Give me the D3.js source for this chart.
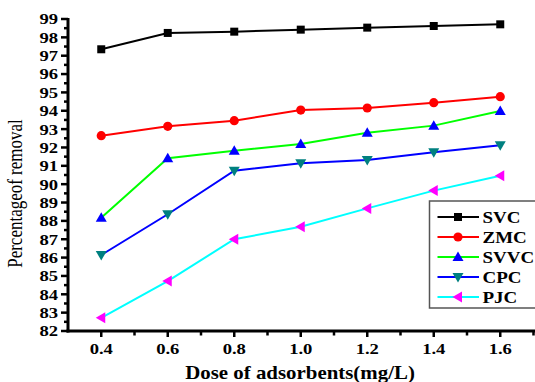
<!DOCTYPE html>
<html>
<head>
<meta charset="utf-8">
<script src="https://cdnjs.cloudflare.com/ajax/libs/d3/7.8.5/d3.min.js"></script>
<style>
  html, body { margin: 0; padding: 0; background: #fff; }
  svg text { font-family: "Liberation Serif", "Times New Roman", serif; }
</style>
</head>
<body>
<div id="chart"></div>
<script>
/*global d3:false */

var doses   = [0.4, 0.6, 0.8, 1.0, 1.2, 1.4, 1.6];
var svc     = [97.35, 98.24, 98.31, 98.42, 98.53, 98.62, 98.71];
var zmc     = [92.64, 93.15, 93.46, 94.04, 94.15, 94.44, 94.77];
var svvc    = [88.17, 91.41, 91.82, 92.19, 92.80, 93.19, 93.99];
var cpc     = [86.14, 88.36, 90.73, 91.14, 91.32, 91.74, 92.12];
var pjc     = [82.72, 84.72, 87.00, 87.68, 88.68, 89.65, 90.46];
var xTicks  = [0.4, 0.6, 0.8, 1.0, 1.2, 1.4, 1.6];
var yTicks  = d3.range(82, 100);

var seriesNames = ['SVC', 'ZMC', 'SVVC', 'CPC', 'PJC'];

(function() {
  var width = 535, height = 382;

  var series = [
    {name: 'SVC',  values: svc,  line: '#000000', fill: '#000000', shape: 'square'},
    {name: 'ZMC',  values: zmc,  line: '#ff0000', fill: '#ff0000', shape: 'circle'},
    {name: 'SVVC', values: svvc, line: '#00ff00', fill: '#0000ff', shape: 'up'},
    {name: 'CPC',  values: cpc,  line: '#0000ff', fill: '#008080', shape: 'down'},
    {name: 'PJC',  values: pjc,  line: '#00ffff', fill: '#ff00ff', shape: 'left'}
  ];

  var x = d3.scaleLinear().domain([0.3, 1.7]).range([68, 533.5]);
  var y = d3.scaleLinear().domain([82, 99]).range([331, 19]);

  var svg = d3.select('#chart').append('svg')
      .attr('width', width)
      .attr('height', height);

  // the original text is stretched sideways, so scale x only
  var stretchText = function(parent, tx, ty, sx, rot) {
    var t = 'translate(' + tx + ',' + ty + ')';
    if (rot) { t += ' rotate(' + rot + ')'; }
    t += ' scale(' + sx + ',1)';
    return parent.append('text').attr('transform', t);
  };

  // marker path for each shape, centred on 0,0
  var markerPath = function(shape) {
    if (shape === 'square') { return 'M-4,-4H4V4H-4Z'; }
    if (shape === 'up')     { return 'M0,-5.5L5.5,4L-5.5,4Z'; }
    if (shape === 'down')   { return 'M0,5.5L5.5,-4L-5.5,-4Z'; }
    if (shape === 'left')   { return 'M-5.5,0L4,-5.5L4,5.5Z'; }
    return null;
  };

  var drawMarker = function(g, s, cx, cy) {
    if (s.shape === 'circle') {
      g.append('circle').attr('cx', cx).attr('cy', cy).attr('r', 4.6).attr('fill', s.fill);
    } else {
      g.append('path')
        .attr('d', markerPath(s.shape))
        .attr('transform', 'translate(' + cx + ',' + cy + ')')
        .attr('fill', s.fill);
    }
  };

  var line = d3.line()
      .x(function(d) { return x(d[0]); })
      .y(function(d) { return y(d[1]); });

  series.forEach(function(s) {
    var pts = doses.map(function(dv, i) { return [dv, s.values[i]]; });
    var g = svg.append('g');
    g.append('path')
      .attr('d', line(pts))
      .attr('fill', 'none')
      .attr('stroke', s.line)
      .attr('stroke-width', 2);
    pts.forEach(function(p) {
      drawMarker(g, s, x(p[0]), y(p[1]));
    });
  });

  // y axis
  var yAxis = svg.append('g').attr('transform', 'translate(68,0)');
  yAxis.append('line')
    .attr('x1', 0).attr('x2', 0)
    .attr('y1', y(99) - 1).attr('y2', y(82) + 1.5)
    .attr('stroke', '#000').attr('stroke-width', 3);
  yAxis.selectAll('line.minor').data(d3.range(82.5, 99, 1)).enter().append('line')
    .attr('class', 'minor')
    .attr('x1', -4).attr('x2', 0)
    .attr('y1', function(d) { return y(d); }).attr('y2', function(d) { return y(d); })
    .attr('stroke', '#000').attr('stroke-width', 2.5);
  yAxis.selectAll('line.major').data(yTicks).enter().append('line')
    .attr('class', 'major')
    .attr('x1', -7).attr('x2', 0)
    .attr('y1', function(d) { return y(d); }).attr('y2', function(d) { return y(d); })
    .attr('stroke', '#000').attr('stroke-width', 2.5);
  yTicks.forEach(function(d) {
    stretchText(yAxis, -10, y(d), 1.2)
      .attr('dy', '0.35em')
      .attr('text-anchor', 'end')
      .attr('font-size', 15.5)
      .attr('font-weight', 'bold')
      .text(d);
  });

  // x axis
  var xAxis = svg.append('g').attr('transform', 'translate(0,331)');
  xAxis.append('line')
    .attr('x1', 66.5).attr('x2', 535)
    .attr('y1', 0).attr('y2', 0)
    .attr('stroke', '#000').attr('stroke-width', 3);
  xAxis.selectAll('line.minor').data([0.5, 0.7, 0.9, 1.1, 1.3, 1.5, 1.7]).enter().append('line')
    .attr('class', 'minor')
    .attr('x1', function(d) { return x(d); }).attr('x2', function(d) { return x(d); })
    .attr('y1', 0).attr('y2', 4.5)
    .attr('stroke', '#000').attr('stroke-width', 2.5);
  xAxis.selectAll('line.major').data(xTicks).enter().append('line')
    .attr('class', 'major')
    .attr('x1', function(d) { return x(d); }).attr('x2', function(d) { return x(d); })
    .attr('y1', 0).attr('y2', 6)
    .attr('stroke', '#000').attr('stroke-width', 2.5);
  xTicks.forEach(function(d) {
    stretchText(xAxis, x(d), 22.5, 1.2)
      .attr('text-anchor', 'middle')
      .attr('font-size', 15.5)
      .attr('font-weight', 'bold')
      .text(d3.format('.1f')(d));
  });

  // axis titles
  stretchText(svg, 300, 379, 1.13)
    .attr('text-anchor', 'middle')
    .attr('font-size', 18.5)
    .attr('font-weight', 'bold')
    .text('Dose of adsorbents(mg/L)');

  svg.append('text')
    .attr('transform', 'translate(22,193.5) rotate(-90) scale(1,1.2)')
    .attr('text-anchor', 'middle')
    .attr('font-size', 17)
    .text('Percentageof removal');

  // legend
  var legend = svg.append('g');
  legend.append('rect')
    .attr('x', 429.5).attr('y', 201)
    .attr('width', 120).attr('height', 107)
    .attr('fill', '#fff')
    .attr('stroke', '#555').attr('stroke-width', 1.5);

  seriesNames.forEach(function(name, i) {
    var s = series[i];
    var ly = 217 + i * 20;
    legend.append('line')
      .attr('x1', 437.5).attr('x2', 479)
      .attr('y1', ly).attr('y2', ly)
      .attr('stroke', s.line).attr('stroke-width', 2);
    drawMarker(legend, s, 458, ly);
    stretchText(legend, 482.5, ly, 1.15)
      .attr('dy', '0.35em')
      .attr('font-size', 16.5)
      .attr('font-weight', 'bold')
      .text(name);
  });
}());
</script>
</body>
</html>
